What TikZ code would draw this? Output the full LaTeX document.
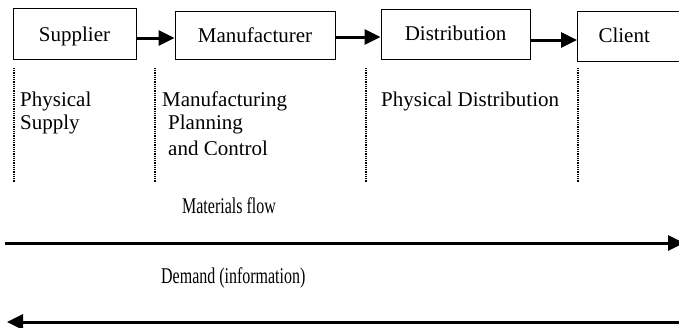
\documentclass[tikz,border=0pt]{standalone}
\usepackage{fontspec}
\setmainfont{Liberation Serif}
\usetikzlibrary{arrows.meta,calc}
\begin{document}
\begin{tikzpicture}[x=1pt,y=-1pt,
  box/.style={draw,line width=1pt,inner sep=0pt,font=\fontsize{21}{25}\selectfont,text height=15pt,text depth=0pt},
  flow/.style={line width=3pt,-{Triangle[length=16pt,width=15pt]}},
  divider/.style={line width=1.3pt,dash pattern=on 1pt off 0.8pt},
  lbl/.style={anchor=base west,inner sep=0pt,font=\fontsize{21}{25}\selectfont},
  caption/.style={anchor=base west,inner sep=0pt,font=\fontsize{22.5}{26}\selectfont}]
\clip (0,0) rectangle (679,327);

% stages of the chain
\node[box,minimum width=123pt,minimum height=51pt] (sup) at (74.5,33.5) {Supplier};
\node[box,minimum width=160pt,minimum height=48pt,text height=14pt] (man) at (255,35) {Manufacturer};
\node[box,minimum width=149pt,minimum height=50pt,text height=12pt] (dis) at (455.5,34) {Distribution};
\node[box,minimum height=50pt,text height=12pt,text width=100pt,align=left,inner xsep=21pt,anchor=west] (cli) at (577,36) {Client};

\draw[flow] ($(sup.east)+(0,4.5)$) -- ($(man.west)+(0,3)$);
\draw[flow] ($(man.east)+(0,2)$) -- ($(dis.west)+(0,3)$);
\draw[flow] ($(dis.east)+(0,6)$) -- ($(cli.west)+(0,4)$);

% dotted separators between the functional areas
\draw[divider] (14,68) -- (14,182);
\draw[divider] (155,68) -- (155,182);
\draw[divider] (366,68) -- (366,182);
\draw[divider] (578,68) -- (578,182);

% functional areas
\node[lbl] (ps1) at (20,106) {Physical};
\node[lbl] (ps2) at (20,129) {Supply};
\node[lbl] (mp1) at (162,106) {Manufacturing};
\node[lbl] (mp2) at (168,129) {Planning};
\begin{scope}
  % the third line sits in a frame that trims its lower edge
  \clip (150,60) rectangle (360,154);
  \node[lbl] (mp3) at (168,155) {and Control};
\end{scope}
\node[lbl] (pd) at (381,106) {Physical Distribution};

% flows (captions set in a condensed face)
\node[caption] (mat) at (182,213) {\scalebox{0.71}[1]{Materials flow}};
\coordinate (mL) at (5,243);
\coordinate (mR) at (684,243);
\draw[flow] (mL) -- (mR);

\node[caption] (dem) at (161,283) {\scalebox{0.71}[1]{Demand (information)}};
\coordinate (dR) at (679,322);
\coordinate (dL) at (7,322);
\draw[flow] (dR) -- (dL);
\end{tikzpicture}
\end{document}
